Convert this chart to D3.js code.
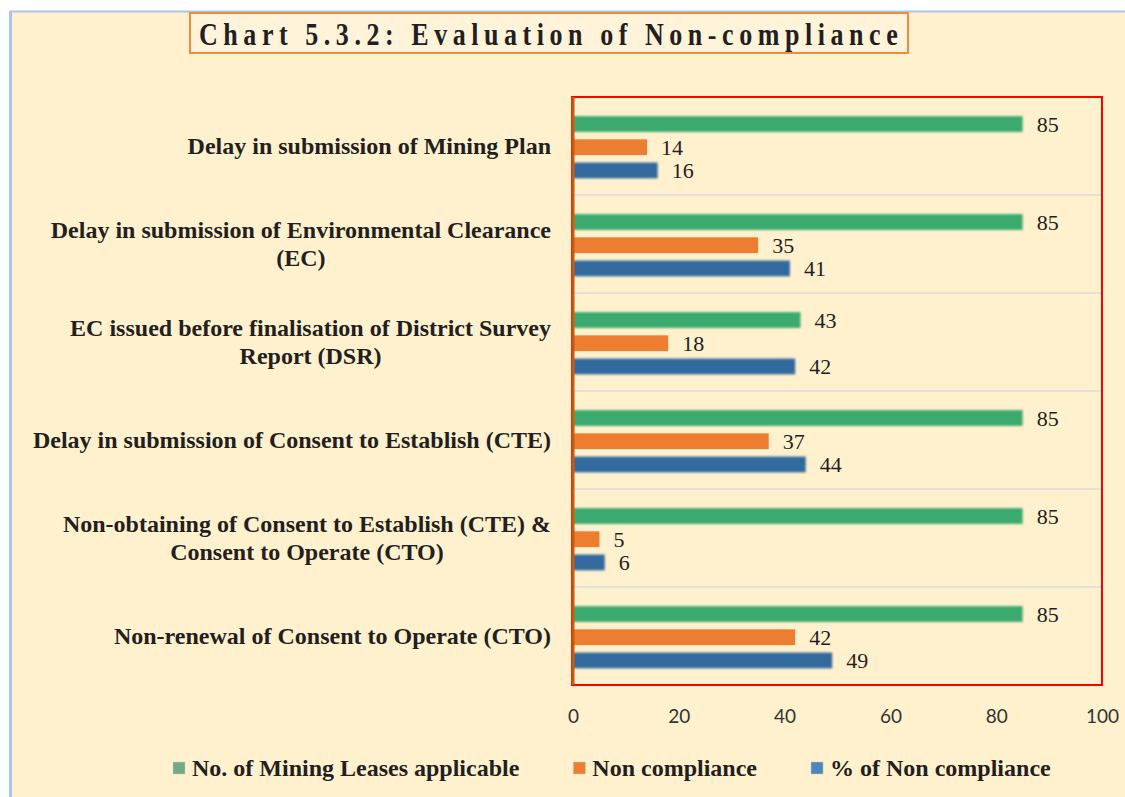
<!DOCTYPE html>
<html><head><meta charset="utf-8">
<script src="https://cdn.jsdelivr.net/npm/d3@7"></script>
<style>
html,body{margin:0;padding:0;background:#fff;}
svg{display:block;}
</style></head>
<body>
<svg id="chart" width="1125" height="797"></svg>
<script>
const title = "Chart 5.3.2: Evaluation of Non-compliance";
const categories = [
  ["Delay in submission of Mining Plan"],
  ["Delay in submission of Environmental Clearance", "(EC)"],
  ["EC issued before finalisation of District Survey", "Report (DSR)"],
  ["Delay in submission of Consent to Establish (CTE)"],
  ["Non-obtaining of Consent to Establish (CTE) &", "Consent to Operate (CTO)"],
  ["Non-renewal of Consent to Operate (CTO)"]
];
const seriesNames = ["No. of Mining Leases applicable", "Non compliance", "% of Non compliance"];
const leasesApplicable = [85, 85, 43, 85, 85, 85];
const nonCompliance = [14, 35, 18, 37, 5, 42];
const pctNonCompliance = [16, 41, 42, 44, 6, 49];
const xTicks = [0, 20, 40, 60, 80, 100];

const barColors = ["#3BAA6E", "#ED7D31", "#336A9D"];
const legendColors = ["#6FA88A", "#ED7D31", "#4A86C0"];
const seriesValues = [leasesApplicable, nonCompliance, pctNonCompliance];

const svg = d3.select("#chart");
const W = 1125, H = 797;
const serif = "'Liberation Serif', 'Times New Roman', serif";

// background frame
svg.append("rect").attr("x", 0).attr("y", 0).attr("width", W).attr("height", H).attr("fill", "#fff");
svg.append("rect").attr("x", 10).attr("y", 11).attr("width", W - 10).attr("height", H - 11).attr("fill", "#FFF1CE");
svg.append("line").attr("x1", 10).attr("x2", W).attr("y1", 11.5).attr("y2", 11.5).attr("stroke", "#A9C8E8").attr("stroke-width", 2);
svg.append("line").attr("x1", 10.5).attr("x2", 10.5).attr("y1", 11).attr("y2", H).attr("stroke", "#A9C8E8").attr("stroke-width", 3);

const defs = svg.append("defs");
defs.append("filter").attr("id", "soft").attr("x", "-5%").attr("y", "-30%").attr("width", "110%").attr("height", "160%")
  .append("feGaussianBlur").attr("stdDeviation", 0.9);

// title
svg.append("rect").attr("x", 190).attr("y", 13).attr("width", 718).attr("height", 40)
  .attr("fill", "#FFF3DA").attr("stroke", "#F08A3C").attr("stroke-width", 2);
const sx = 0.84, targetW = 699;
const tText = svg.append("text")
  .attr("x", 0).attr("y", 0)
  .attr("text-anchor", "start")
  .attr("font-family", serif)
  .attr("font-weight", "bold")
  .attr("font-size", 31)
  .attr("fill", "#231F20")
  .text(title);
const w0 = tText.node().getComputedTextLength();
const ls = (targetW / sx - w0) / (title.length - 1);
tText.attr("letter-spacing", ls);
tText.attr("transform", `translate(199,44.5) scale(${sx},1)`);

// plot area
const plot = {left: 573, right: 1102, top: 97, bottom: 685};
const x = d3.scaleLinear().domain([0, 100]).range([plot.left, plot.right]);
const y0 = d3.scaleBand().domain(d3.range(categories.length)).range([plot.top, plot.bottom]);
const bw = y0.bandwidth();
const y1 = d3.scaleBand().domain(d3.range(seriesNames.length)).range([bw * 0.195, bw * 0.83]).paddingInner(0.32);

// gridlines (category separators)
svg.append("g").selectAll("line").data(d3.range(1, categories.length)).join("line")
  .attr("x1", plot.left).attr("x2", plot.right)
  .attr("y1", d => y0(d)).attr("y2", d => y0(d))
  .attr("stroke", "#DADADA").attr("stroke-width", 1.5);

// bars
const groups = svg.append("g").selectAll("g").data(categories).join("g")
  .attr("transform", (d, i) => `translate(0,${y0(i)})`);

groups.each(function(d, ci) {
  const g = d3.select(this);
  seriesValues.forEach((vals, si) => {
    g.append("rect")
      .attr("x", x(0))
      .attr("y", y1(si))
      .attr("width", x(vals[ci]) - x(0))
      .attr("height", y1.bandwidth())
      .attr("fill", barColors[si])
      .attr("filter", si === 1 ? null : "url(#soft)");
    g.append("text")
      .attr("x", x(vals[ci]) + 14)
      .attr("y", y1(si) + y1.bandwidth() / 2)
      .attr("dy", "0.35em")
      .attr("font-family", serif)
      .attr("font-size", 22)
      .attr("fill", "#231F20")
      .text(vals[ci]);
  });
});

// plot border
svg.append("rect").attr("x", plot.left - 1).attr("y", plot.top).attr("width", plot.right - plot.left + 1).attr("height", plot.bottom - plot.top)
  .attr("fill", "none").attr("stroke", "#FF0000").attr("stroke-width", 2);

// category axis line
svg.append("line").attr("x1", plot.left).attr("x2", plot.left).attr("y1", plot.top).attr("y2", plot.bottom)
  .attr("stroke", "#C55A11").attr("stroke-width", 3);

// category labels
const labelRight = 551;
const lineH = 28;
categories.forEach((lines, i) => {
  const cy = y0(i) + bw / 2;
  const g = svg.append("g");
  const texts = lines.map((ln, k) => g.append("text")
    .attr("font-family", serif)
    .attr("font-weight", "bold")
    .attr("font-size", 24)
    .attr("fill", "#231F20")
    .attr("text-anchor", "middle")
    .attr("y", cy + (k - (lines.length - 1) / 2) * lineH)
    .attr("dy", "0.33em")
    .text(ln));
  const maxW = d3.max(texts, t => t.node().getComputedTextLength());
  texts.forEach(t => t.attr("x", labelRight - maxW / 2));
});

// x axis
const xAxis = d3.axisBottom(x).tickValues(xTicks).tickSize(0).tickPadding(0);
const ax = svg.append("g").attr("transform", `translate(0,${plot.bottom})`).call(xAxis);
ax.select(".domain").remove();
ax.selectAll("text")
  .attr("y", 31)
  .attr("dy", "0.35em")
  .attr("font-family", "Lato, 'Open Sans', sans-serif")
  .attr("font-size", 19)
  .attr("fill", "#333");

// legend
const leg = svg.append("g").attr("transform", "translate(173,768)");
let lx = 0;
seriesNames.forEach((name, i) => {
  const g = leg.append("g").attr("transform", `translate(${lx},0)`);
  g.append("rect").attr("x", 0).attr("y", -6).attr("width", 12).attr("height", 12)
    .attr("fill", legendColors[i]).attr("stroke", "#d9c9a8").attr("stroke-width", 0.5);
  const t = g.append("text").attr("x", 19).attr("y", 0).attr("dy", "0.33em")
    .attr("font-family", serif)
    .attr("font-weight", "bold").attr("font-size", 24).attr("fill", "#231F20")
    .text(name);
  lx += 19 + t.node().getComputedTextLength() + 54;
});
</script>
</body></html>
